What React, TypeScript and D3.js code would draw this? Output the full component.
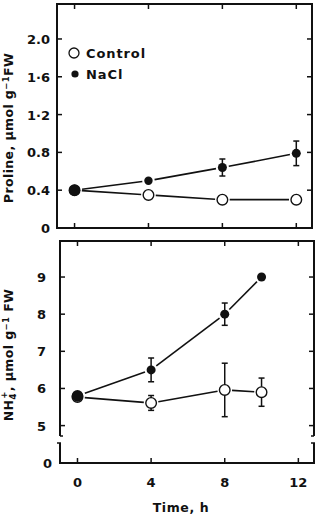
import React, { useEffect, useRef } from 'react';
import * as d3 from 'd3';

// time points (h)
const prolineTimes = [0, 4, 8, 12];
const nh4Times = [0, 4, 8, 10];
const timeTicks = [0, 4, 8, 12];

// proline, umol g-1 FW
const prolineControl = [0.4, 0.35, 0.3, 0.3];
const prolineControlErr = [0, 0, 0, 0];
const prolineNaCl = [0.4, 0.5, 0.64, 0.79];
const prolineNaClErr = [0, 0, 0.09, 0.13];
const prolineTicks = [0.4, 0.8, 1.2, 1.6, 2.0];
const prolineTickLabels = ['0.4', '0.8', '1·2', '1·6', '2.0'];

// NH4+, umol g-1 FW
const nh4Control = [5.77, 5.61, 5.96, 5.9];
const nh4ControlErr = [0, 0.2, 0.72, 0.38];
const nh4NaCl = [5.8, 6.5, 8.0, 9.0];
const nh4NaClErr = [0, 0.32, 0.3, 0];
const nh4Ticks = [5, 6, 7, 8, 9];

const FONT = 'DejaVu Sans, Liberation Sans, sans-serif';

const App = () => {
  const svgRef = useRef<SVGSVGElement>(null);

  useEffect(() => {
    const svg = d3.select(svgRef.current);
    svg.selectAll('*').remove();

    const tickLen = 5;

    // draws a series: connecting segments with gaps, error bars, markers
    const drawSeries = (g, x, y, times, vals, errs, filled, radii) => {
      const pts = times.map((t, i) => ({ x: x(t), y: y(vals[i]), r: radii[i], e: errs[i], v: vals[i] }));
      for (let i = 0; i < pts.length - 1; i++) {
        const a = pts[i], b = pts[i + 1];
        const dx = b.x - a.x, dy = b.y - a.y;
        const len = Math.sqrt(dx * dx + dy * dy);
        const s = (a.r + 2) / len, e = (b.r + 2) / len;
        g.append('line')
          .attr('x1', a.x + dx * s).attr('y1', a.y + dy * s)
          .attr('x2', b.x - dx * e).attr('y2', b.y - dy * e)
          .attr('stroke', '#111').attr('stroke-width', 1.6);
      }
      pts.forEach(p => {
        if (!p.e) return;
        const y1 = y(p.v + p.e), y2 = y(p.v - p.e);
        g.append('line').attr('x1', p.x).attr('x2', p.x).attr('y1', y1).attr('y2', y2)
          .attr('stroke', '#111').attr('stroke-width', 1.5);
        [y1, y2].forEach(yy => g.append('line')
          .attr('x1', p.x - 3).attr('x2', p.x + 3).attr('y1', yy).attr('y2', yy)
          .attr('stroke', '#111').attr('stroke-width', 1.5));
      });
      g.selectAll(null).data(pts).enter().append('circle')
        .attr('cx', d => d.x).attr('cy', d => d.y).attr('r', d => d.r)
        .attr('fill', filled ? '#111' : '#fff')
        .attr('stroke', '#111').attr('stroke-width', filled ? 0 : 1.4);
    };

    // ---------- top panel: proline ----------
    const tx = d3.scaleLinear().domain([-0.95, 12.85]).range([57, 312]);
    const ty = d3.scaleLinear().domain([0, 2.37]).range([228, 4]);
    const top = svg.append('g');

    top.append('rect').attr('x', 57).attr('y', 4).attr('width', 255).attr('height', 224)
      .attr('fill', 'none').attr('stroke', '#111').attr('stroke-width', 2);

    prolineTicks.forEach((v, i) => {
      const yy = ty(v);
      top.append('line').attr('x1', 57).attr('x2', 57 + tickLen).attr('y1', yy).attr('y2', yy)
        .attr('stroke', '#111').attr('stroke-width', 1.5);
      top.append('line').attr('x1', 312).attr('x2', 312 - tickLen).attr('y1', yy).attr('y2', yy)
        .attr('stroke', '#111').attr('stroke-width', 1.5);
      top.append('text').attr('x', 50).attr('y', yy + 5).attr('text-anchor', 'end')
        .attr('font-family', FONT).attr('font-weight', 'bold').attr('font-size', 13)
        .attr('fill', '#111').text(prolineTickLabels[i]);
    });
    top.append('text').attr('x', 50).attr('y', ty(0) + 5).attr('text-anchor', 'end')
      .attr('font-family', FONT).attr('font-weight', 'bold').attr('font-size', 13)
      .attr('fill', '#111').text('0');

    timeTicks.forEach(t => {
      const xx = tx(t);
      top.append('line').attr('x1', xx).attr('x2', xx).attr('y1', 4).attr('y2', 4 + tickLen)
        .attr('stroke', '#111').attr('stroke-width', 1.5);
      top.append('line').attr('x1', xx).attr('x2', xx).attr('y1', 228).attr('y2', 228 - tickLen)
        .attr('stroke', '#111').attr('stroke-width', 1.5);
    });

    const ylab1 = top.append('text')
      .attr('transform', 'translate(13,128) rotate(-90)')
      .attr('text-anchor', 'middle')
      .attr('font-family', FONT).attr('font-weight', 'bold').attr('font-size', 12.5)
      .attr('letter-spacing', 0.4).attr('fill', '#111');
    ylab1.append('tspan').text('Proline, μmol g');
    ylab1.append('tspan').attr('dy', -4).attr('font-size', 8.5).text('−1');
    ylab1.append('tspan').attr('dy', 4).text('FW');

    drawSeries(top, tx, ty, prolineTimes, prolineControl, prolineControlErr, false, [5.3, 5.3, 5.3, 5.3]);
    drawSeries(top, tx, ty, prolineTimes, prolineNaCl, prolineNaClErr, true, [5.6, 4.2, 4.5, 4.5]);

    // legend
    top.append('circle').attr('cx', 74).attr('cy', 53).attr('r', 5)
      .attr('fill', '#fff').attr('stroke', '#111').attr('stroke-width', 1.3);
    top.append('text').attr('x', 86).attr('y', 58)
      .attr('font-family', FONT).attr('font-weight', 'bold').attr('font-size', 13)
      .attr('letter-spacing', 0.9).attr('fill', '#111').text('Control');
    top.append('circle').attr('cx', 75).attr('cy', 74).attr('r', 3.6).attr('fill', '#111');
    top.append('text').attr('x', 86).attr('y', 79)
      .attr('font-family', FONT).attr('font-weight', 'bold').attr('font-size', 13)
      .attr('letter-spacing', 0.9).attr('fill', '#111').text('NaCl');

    // ---------- bottom panel: NH4+ ----------
    const bx = d3.scaleLinear().domain([-0.95, 12.85]).range([60, 314]);
    const by = d3.scaleLinear().domain([4.72, 9.97]).range([436, 241]);
    const byLow = d3.scaleLinear().domain([0, 0.55]).range([463, 443]);
    const bot = svg.append('g');
    const L = 60, R = 314;

    // upper frame part (broken axis)
    bot.append('path')
      .attr('d', `M${L},436 L${L},241 L${R},241 L${R},436`)
      .attr('fill', 'none').attr('stroke', '#111').attr('stroke-width', 2);
    // lower frame part
    bot.append('path')
      .attr('d', `M${L},443 L${L},463 L${R},463 L${R},443`)
      .attr('fill', 'none').attr('stroke', '#111').attr('stroke-width', 2);
    // break caps
    [[L - 3, L], [R - 3, R]].forEach(([a, b]) => {
      bot.append('line').attr('x1', a).attr('x2', b + 1).attr('y1', 443).attr('y2', 443)
        .attr('stroke', '#111').attr('stroke-width', 1.5);
    });
    bot.append('line').attr('x1', L).attr('x2', L + 3).attr('y1', 436).attr('y2', 436)
      .attr('stroke', '#111').attr('stroke-width', 1.5);
    bot.append('line').attr('x1', R - 3).attr('x2', R).attr('y1', 436).attr('y2', 436)
      .attr('stroke', '#111').attr('stroke-width', 1.5);

    nh4Ticks.forEach(v => {
      const yy = by(v);
      bot.append('line').attr('x1', L).attr('x2', L + tickLen).attr('y1', yy).attr('y2', yy)
        .attr('stroke', '#111').attr('stroke-width', 1.5);
      bot.append('line').attr('x1', R).attr('x2', R - tickLen).attr('y1', yy).attr('y2', yy)
        .attr('stroke', '#111').attr('stroke-width', 1.5);
      bot.append('text').attr('x', 46).attr('y', yy + 5).attr('text-anchor', 'end')
        .attr('font-family', FONT).attr('font-weight', 'bold').attr('font-size', 13)
        .attr('fill', '#111').text(String(v));
    });
    bot.append('text').attr('x', 52).attr('y', byLow(0) + 5).attr('text-anchor', 'end')
      .attr('font-family', FONT).attr('font-weight', 'bold').attr('font-size', 13)
      .attr('fill', '#111').text('0');

    timeTicks.forEach(t => {
      const xx = bx(t);
      bot.append('line').attr('x1', xx).attr('x2', xx).attr('y1', 241).attr('y2', 241 + tickLen)
        .attr('stroke', '#111').attr('stroke-width', 1.5);
      bot.append('line').attr('x1', xx).attr('x2', xx).attr('y1', 463).attr('y2', 463 - tickLen)
        .attr('stroke', '#111').attr('stroke-width', 1.5);
      bot.append('text').attr('x', xx).attr('y', 487).attr('text-anchor', 'middle')
        .attr('font-family', FONT).attr('font-weight', 'bold').attr('font-size', 13)
        .attr('fill', '#111').text(String(t));
    });

    bot.append('text').attr('x', 181).attr('y', 512).attr('text-anchor', 'middle')
      .attr('font-family', FONT).attr('font-weight', 'bold').attr('font-size', 12.5)
      .attr('letter-spacing', 0.6).attr('fill', '#111').text('Time, h');

    const ylab2 = bot.append('text')
      .attr('transform', 'translate(13,355) rotate(-90)')
      .attr('text-anchor', 'middle')
      .attr('font-family', FONT).attr('font-weight', 'bold').attr('font-size', 12.5)
      .attr('letter-spacing', 0.4).attr('fill', '#111');
    ylab2.append('tspan').text('NH');
    ylab2.append('tspan').attr('dy', 3).attr('font-size', 8.5).text('4');
    ylab2.append('tspan').attr('dy', -9.5).attr('dx', -5.5).attr('font-size', 8.5).text('+');
    ylab2.append('tspan').attr('dy', 6.5).text(', μmol g');
    ylab2.append('tspan').attr('dy', -4).attr('font-size', 8.5).text('−1');
    ylab2.append('tspan').attr('dy', 4).text(' FW');

    drawSeries(bot, bx, by, nh4Times, nh4Control, nh4ControlErr, false, [5.3, 5.3, 5.3, 5.3]);
    drawSeries(bot, bx, by, nh4Times, nh4NaCl, nh4NaClErr, true, [5.8, 4.5, 4.5, 4.5]);
  }, []);

  return (
    <svg ref={svgRef} width={318} height={514}
      style={{ position: 'absolute', left: 0, top: 0, background: '#fff' }} />
  );
};

export default App;
